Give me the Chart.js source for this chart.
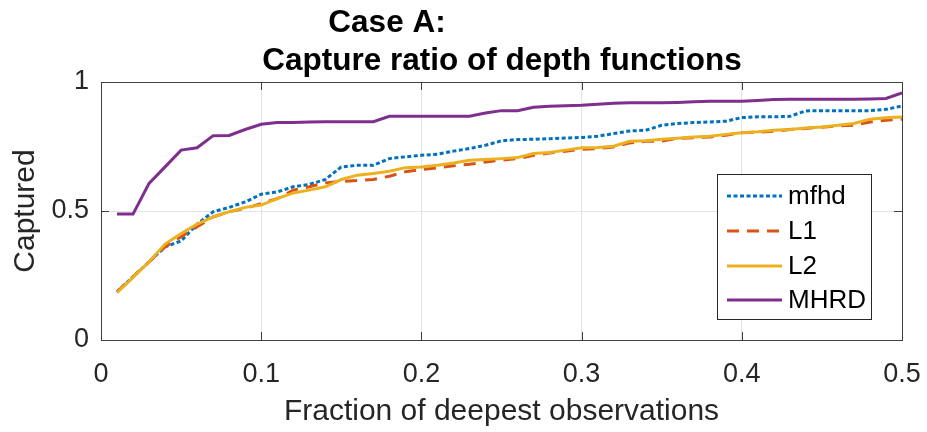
<!DOCTYPE html>
<html>
<head>
<meta charset="utf-8">
<script src="https://cdn.jsdelivr.net/npm/chart.js@4/dist/chart.umd.min.js"></script>
<style>
  html, body { margin: 0; padding: 0; background: #fff; }
  #wrap { width: 927px; height: 432px; }
</style>
</head>
<body>
<div id="wrap"><canvas id="chart" width="927" height="432"></canvas></div>
<script>
// fraction of deepest observations (x)
const fractions = [
    0.01, 0.02, 0.03, 0.04, 0.05, 0.06, 0.07, 0.08, 0.09, 0.10,
    0.11, 0.12, 0.13, 0.14, 0.15, 0.16, 0.17, 0.18, 0.19, 0.20,
    0.21, 0.22, 0.23, 0.24, 0.25, 0.26, 0.27, 0.28, 0.29, 0.30,
    0.31, 0.32, 0.33, 0.34, 0.35, 0.36, 0.37, 0.38, 0.39, 0.40,
    0.41, 0.42, 0.43, 0.44, 0.45, 0.46, 0.47, 0.48, 0.49, 0.50
];

const mfhd = [
    0.187, 0.245, 0.303, 0.361, 0.384, 0.449, 0.497, 0.514, 0.535, 0.565,
    0.574, 0.594, 0.603, 0.622, 0.671, 0.677, 0.677, 0.703, 0.710, 0.716,
    0.720, 0.732, 0.742, 0.755, 0.772, 0.777, 0.778, 0.780, 0.783, 0.785,
    0.790, 0.800, 0.810, 0.813, 0.832, 0.839, 0.843, 0.845, 0.848, 0.862,
    0.865, 0.865, 0.867, 0.888, 0.889, 0.889, 0.889, 0.889, 0.894, 0.907
];

const l1 = [
    0.187, 0.245, 0.303, 0.361, 0.400, 0.439, 0.477, 0.497, 0.510, 0.529,
    0.548, 0.581, 0.594, 0.609, 0.615, 0.618, 0.622, 0.635, 0.652, 0.661,
    0.667, 0.675, 0.681, 0.690, 0.697, 0.703, 0.716, 0.725, 0.732, 0.739,
    0.742, 0.748, 0.764, 0.770, 0.771, 0.781, 0.784, 0.787, 0.794, 0.803,
    0.806, 0.809, 0.816, 0.820, 0.825, 0.830, 0.832, 0.845, 0.852, 0.856
];

const l2 = [
    0.183, 0.243, 0.303, 0.372, 0.413, 0.449, 0.477, 0.497, 0.514, 0.523,
    0.548, 0.570, 0.581, 0.594, 0.622, 0.639, 0.645, 0.654, 0.668, 0.671,
    0.677, 0.686, 0.697, 0.700, 0.703, 0.707, 0.723, 0.727, 0.736, 0.745,
    0.746, 0.751, 0.770, 0.772, 0.778, 0.782, 0.787, 0.790, 0.797, 0.803,
    0.807, 0.813, 0.816, 0.822, 0.826, 0.832, 0.839, 0.856, 0.861, 0.864
];

const mhrd = [
    0.488, 0.488, 0.607, 0.671, 0.736, 0.745, 0.792, 0.793, 0.816, 0.836,
    0.843, 0.843, 0.845, 0.846, 0.846, 0.846, 0.846, 0.867, 0.867, 0.867,
    0.867, 0.867, 0.867, 0.880, 0.889, 0.889, 0.902, 0.906, 0.908, 0.910,
    0.914, 0.918, 0.920, 0.920, 0.920, 0.921, 0.923, 0.925, 0.925, 0.925,
    0.928, 0.932, 0.933, 0.933, 0.933, 0.933, 0.933, 0.934, 0.936, 0.958
];

const xTicks = [0, 0.1, 0.2, 0.3, 0.4, 0.5];
const xTickLabels = ['0', '0.1', '0.2', '0.3', '0.4', '0.5'];
const yTicks = [0, 0.5, 1];
const yTickLabels = ['0', '0.5', '1'];

const seriesNames = ['mfhd', 'L1', 'L2', 'MHRD'];
const titleLines = ['Case A:', 'Capture ratio of depth functions'];

const FONT = "'Liberation Sans', Arial, Helvetica, sans-serif";
const TEXT = '#262626';

function toPoints(values) {
    return fractions.map((f, i) => ({ x: f, y: values[i] }));
}

// box, inner tick marks, two-line title and the legend (MATLAB style)
const matlabFrame = {
    id: 'matlabFrame',
    afterDatasetsDraw(chart) {
        const { ctx, chartArea: a, scales } = chart;
        ctx.save();
        ctx.strokeStyle = '#404040';
        ctx.lineWidth = 1;
        ctx.strokeRect(Math.round(a.left) + 0.5, Math.round(a.top) + 0.5,
            Math.round(a.right - a.left), Math.round(a.bottom - a.top));

        const tl = 8;
        ctx.beginPath();
        xTicks.forEach(v => {
            const px = Math.round(scales.x.getPixelForValue(v)) + 0.5;
            ctx.moveTo(px, a.bottom); ctx.lineTo(px, a.bottom - tl);
            ctx.moveTo(px, a.top); ctx.lineTo(px, a.top + tl);
        });
        yTicks.forEach(v => {
            const py = Math.round(scales.y.getPixelForValue(v)) + 0.5;
            ctx.moveTo(a.left, py); ctx.lineTo(a.left + tl, py);
            ctx.moveTo(a.right, py); ctx.lineTo(a.right - tl, py);
        });
        ctx.stroke();

        // title
        ctx.fillStyle = '#000';
        ctx.font = 'bold 31.5px ' + FONT;
        ctx.textAlign = 'center';
        ctx.textBaseline = 'alphabetic';
        ctx.fillText(titleLines[0], 387, 32);
        ctx.fillText(titleLines[1], 502, 70);

        // legend
        const lx = 717, ly = 174, lw = 154, lh = 145;
        ctx.fillStyle = '#fff';
        ctx.fillRect(lx, ly, lw, lh);
        ctx.strokeStyle = '#262626';
        ctx.strokeRect(lx + 0.5, ly + 0.5, lw, lh);
        ctx.font = '26px ' + FONT;
        ctx.textAlign = 'left';
        ctx.textBaseline = 'middle';
        const rows = [196, 231, 266, 300];
        chart.data.datasets.forEach((ds, i) => {
            ctx.beginPath();
            ctx.strokeStyle = ds.borderColor;
            ctx.lineWidth = ds.borderWidth;
            ctx.setLineDash(ds.borderDash || []);
            ctx.moveTo(727, rows[i]);
            ctx.lineTo(782, rows[i]);
            ctx.stroke();
            ctx.setLineDash([]);
            ctx.fillStyle = '#000';
            ctx.fillText(ds.label, 788, rows[i] + 1);
        });
        ctx.restore();
    }
};

new Chart(document.getElementById('chart'), {
    type: 'line',
    data: {
        datasets: [
            {
                label: seriesNames[0],
                data: toPoints(mfhd),
                borderColor: '#0072BD',
                borderWidth: 3,
                borderDash: [4, 2.5],
                order: 4
            },
            {
                label: seriesNames[1],
                data: toPoints(l1),
                borderColor: '#D95319',
                borderWidth: 3,
                borderDash: [12, 8],
                order: 3
            },
            {
                label: seriesNames[2],
                data: toPoints(l2),
                borderColor: '#EDB120',
                borderWidth: 3,
                order: 2
            },
            {
                label: seriesNames[3],
                data: toPoints(mhrd),
                borderColor: '#7E2F8E',
                borderWidth: 3,
                order: 1
            }
        ]
    },
    options: {
        responsive: false,
        animation: false,
        events: [],
        layout: { padding: { left: 0, right: 25, top: 82, bottom: 0 } },
        elements: {
            point: { radius: 0 },
            line: { tension: 0, fill: false }
        },
        plugins: {
            legend: { display: false },
            title: { display: false },
            tooltip: { enabled: false }
        },
        scales: {
            x: {
                type: 'linear',
                min: 0,
                max: 0.5,
                afterBuildTicks: s => { s.ticks = xTicks.map(v => ({ value: v })); },
                afterFit: s => {
                    s.height = 92;
                    s.paddingLeft = 0;
                    s.paddingRight = 0;
                },
                border: { display: false },
                grid: { color: '#e3e3e3', drawTicks: false },
                ticks: {
                    color: TEXT,
                    padding: 18,
                    maxRotation: 0,
                    font: { family: FONT, size: 27 },
                    callback: v => xTickLabels[xTicks.indexOf(v)]
                },
                title: {
                    display: true,
                    text: 'Fraction of deepest observations',
                    color: TEXT,
                    font: { family: FONT, size: 30 },
                    padding: { top: 0, bottom: 2 }
                }
            },
            y: {
                type: 'linear',
                min: 0,
                max: 1,
                afterBuildTicks: s => { s.ticks = yTicks.map(v => ({ value: v })); },
                afterFit: s => {
                    s.width = 101;
                    s.paddingTop = 0;
                    s.paddingBottom = 0;
                },
                border: { display: false },
                grid: { color: '#e3e3e3', drawTicks: false },
                ticks: {
                    color: TEXT,
                    padding: 12,
                    font: { family: FONT, size: 27 },
                    callback: v => yTickLabels[yTicks.indexOf(v)]
                },
                title: {
                    display: true,
                    text: 'Captured',
                    color: TEXT,
                    font: { family: FONT, size: 30 },
                    padding: { top: 8, bottom: 0 }
                }
            }
        }
    },
    plugins: [matlabFrame]
});
</script>
</body>
</html>
